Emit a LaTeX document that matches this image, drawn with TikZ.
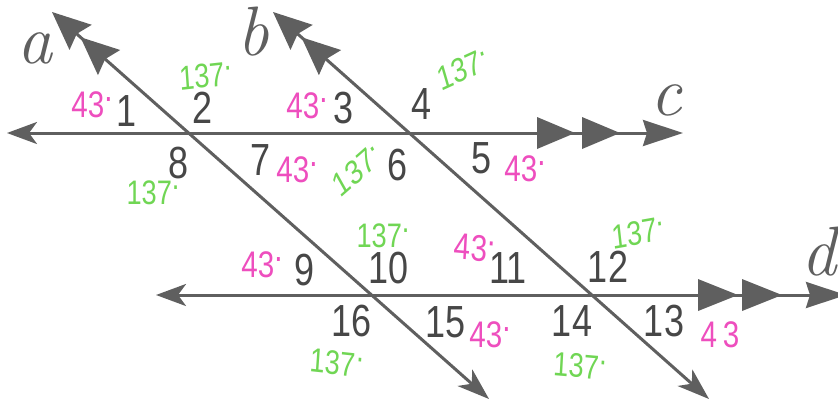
\documentclass[tikz,border=0pt]{standalone}
\usepackage{fontspec}
\setsansfont{Liberation Sans}
\usetikzlibrary{arrows.meta}
\definecolor{ink}{RGB}{95,95,95}
\definecolor{pinkpen}{RGB}{238,78,190}
\definecolor{greenpen}{RGB}{112,214,84}
\newcommand\pdot{\raisebox{0.45em}{.}}
\tikzset{ln/.style={draw=ink, line width=3pt},
  trans/.style={{Stealth[length=38pt,width=33pt,inset=5pt] Stealth[length=38pt,width=33pt,inset=5pt]}-{Stealth[length=32pt,width=22pt,inset=9pt]}},
  par/.style={{Stealth[length=30pt,width=22pt,inset=8pt]}-{Stealth[length=40pt,width=26pt,inset=4pt]}},
  num/.style={font=\sffamily\fontsize{45}{45}\selectfont, text=black!72, xscale=0.8, inner sep=0pt},
  pk/.style={font=\sffamily\fontsize{37}{37}\selectfont, text=pinkpen, xscale=0.8, inner sep=0pt},
  gr/.style={font=\sffamily\fontsize{34}{34}\selectfont, text=greenpen, xscale=0.8, inner sep=0pt},
  lbl/.style={font=\fontsize{70}{70}\selectfont\itshape, text=ink, inner sep=0pt}}

\begin{document}
\begin{tikzpicture}[x=1pt,y=-1pt]
  \clip (0,0) rectangle (838,402);
  \fill[white] (0,0) rectangle (838,402);
  % end points of the lines
  \coordinate (cL) at (7,133);   \coordinate (cR) at (683,133);
  \coordinate (dL) at (156,295); \coordinate (dR) at (846,295);
  \coordinate (aT) at (52,12);   \coordinate (aB) at (489,399);
  \coordinate (bT) at (273,12);  \coordinate (bB) at (709,399);
  % parallel lines c and d
  \draw[ln, par] (cL) -- (cR);
  \draw[ln, par] (dL) -- (dR);
  \foreach \x in {537,582} \fill[ink] (\x,117) -- ++(38,16) -- ++(-38,16) -- cycle;
  \foreach \x in {698,742} \fill[ink] (\x,279) -- ++(40,16) -- ++(-40,16) -- cycle;
  % transversals a and b
  \draw[ln, trans] (aT) -- (aB);
  \draw[ln, trans] (bT) -- (bB);
  % line names
  \node[lbl] (la) at (35,48) {a};
  \node[lbl] (lb) at (253,32) {b};
  \node[lbl] (lc) at (666,100) {c};
  \node[lbl] (ld) at (819,252) {d};
  % angle numbers
  \node[num] (n1) at (127,111) {1};
  \node[num] (n2) at (203,108) {2};
  \node[num] (n3) at (344,108) {3};
  \node[num] (n4) at (422,104) {4};
  \node[num] (n5) at (482,158) {5};
  \node[num] (n6) at (398,165) {6};
  \node[num] (n7) at (261,160) {7};
  \node[num] (n8) at (179,163) {8};
  \node[num] (n9) at (305,270) {9};
  \node[num] (n10) at (389,268) {10};
  \node[num] (n11) at (508,268) {11};
  \node[num] (n12) at (608,267) {12};
  \node[num] (n13) at (664,321) {13};
  \node[num] (n14) at (572,321) {14};
  \node[num] (n15) at (446,322) {15};
  \node[num] (n16) at (352,321) {16};
  % pen marks: 43
  \node[pk] (p1) at (92,105) {43\pdot};
  \node[pk] (p3) at (307,106) {43\pdot};
  \node[pk] (p7) at (297,170) {43\pdot};
  \node[pk] (p5) at (525,169) {43\pdot};
  \node[pk] (p9) at (262,265) {43\pdot};
  \node[pk, rotate=-4] (p11) at (475,248) {43\pdot};
  \node[pk] (p15) at (490,335) {43\pdot};
  \node[pk] (p13) at (720,335) {4\hspace{7pt}3};
  % pen marks: 137
  \node[gr, rotate=5] (g2) at (206,76) {137\pdot};
  \node[gr, rotate=20] (g4) at (463,69) {137\pdot};
  \node[gr] (g8) at (153,193) {137\pdot};
  \node[gr, rotate=35] (g6) at (357,170) {137\pdot};
  \node[gr] (g10) at (383,236) {137\pdot};
  \node[gr, rotate=8] (g12) at (638,233) {137\pdot};
  \node[gr, rotate=-4] (g14) at (580,366) {137\pdot};
  \node[gr, rotate=-5] (g16) at (337,363) {137\pdot};
\end{tikzpicture}
\end{document}
